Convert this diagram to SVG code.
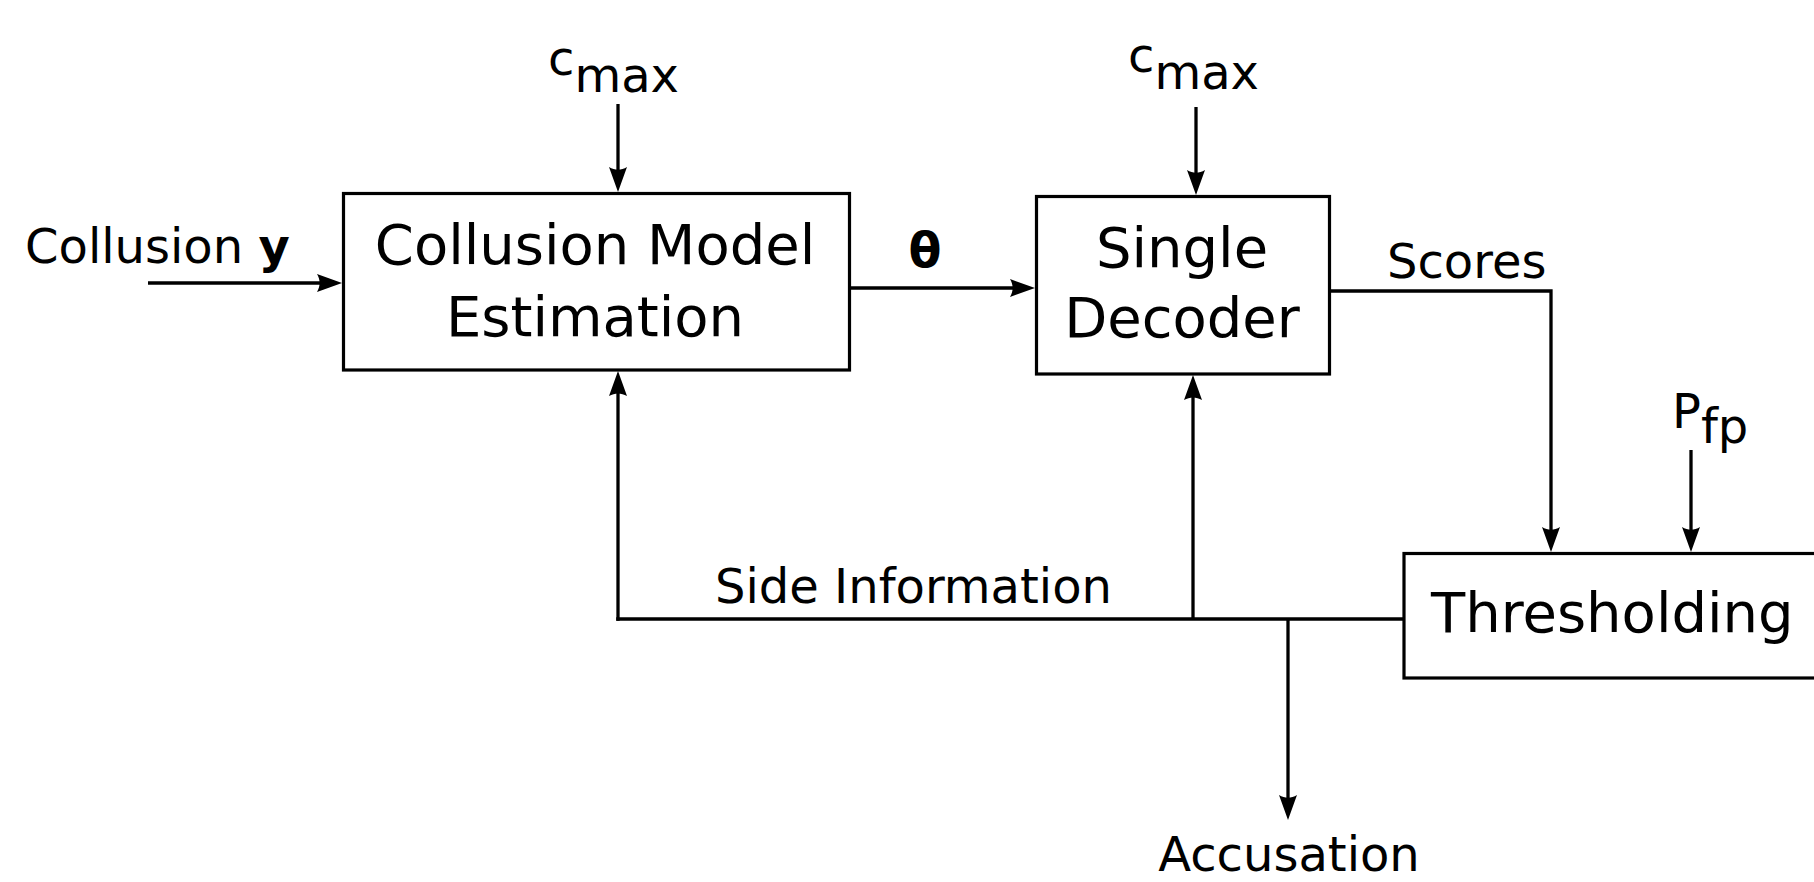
<svg xmlns="http://www.w3.org/2000/svg" width="1814" height="882" viewBox="0 0 1814 882">
  <style>
    .box { fill: #ffffff; stroke: #000000; stroke-width: 3.2; }
    .wire { fill: none; stroke: #000000; stroke-width: 3.3; stroke-linecap: butt; stroke-linejoin: miter; }
    .big { font-family: "DejaVu Sans", "Liberation Sans", sans-serif; font-size: 56px; fill: #000000; }
    .lbl { font-family: "DejaVu Sans", "Liberation Sans", sans-serif; font-size: 48px; fill: #000000; }
    .bold { font-weight: bold; }
  </style>
  <defs>
    <!-- notched arrowhead; the line end sits in the notch, tip lies 22px further on -->
    <marker id="arrow" markerUnits="userSpaceOnUse" markerWidth="26" markerHeight="19" viewBox="0 0 26 18" refX="3" refY="9" orient="auto" overflow="visible">
      <path d="M0,0 L25,9 L0,18 C3.5,12 3.5,6 0,0 Z" fill="#000000"/>
    </marker>
  </defs>

  <rect width="1814" height="882" fill="#ffffff"/>

  <!-- connectors -->
  <g id="connectors">
    <!-- Collusion y into estimator -->
    <path class="wire" d="M148,283 H320" marker-end="url(#arrow)"/>
    <!-- c_max into estimator -->
    <path class="wire" d="M618,104 V170" marker-end="url(#arrow)"/>
    <!-- theta to decoder -->
    <path class="wire" d="M849,288 H1013" marker-end="url(#arrow)"/>
    <!-- c_max into decoder -->
    <path class="wire" d="M1196,107 V173" marker-end="url(#arrow)"/>
    <!-- scores to thresholding -->
    <path class="wire" d="M1329,291 H1551 V530" marker-end="url(#arrow)"/>
    <!-- P_fp into thresholding -->
    <path class="wire" d="M1691,450 V530" marker-end="url(#arrow)"/>
    <!-- side information bus -->
    <path class="wire" d="M616.2,619 H1404" style="stroke-width:3.6"/>
    <path class="wire" d="M618,620.8 V393" marker-end="url(#arrow)"/>
    <path class="wire" d="M1193,619 V397" marker-end="url(#arrow)"/>
    <!-- accusation output -->
    <path class="wire" d="M1288,619 V798" marker-end="url(#arrow)"/>
  </g>

  <!-- nodes -->
  <g id="estimation">
    <rect class="box" x="343.5" y="193.5" width="506" height="176.5"/>
    <text class="big" x="595" y="264" text-anchor="middle">Collusion Model</text>
    <text class="big" x="595" y="336" text-anchor="middle">Estimation</text>
  </g>

  <g id="decoder">
    <rect class="box" x="1036.5" y="196.5" width="293" height="177.5"/>
    <text class="big" x="1182" y="267" text-anchor="middle">Single</text>
    <text class="big" x="1182" y="337" text-anchor="middle">Decoder</text>
  </g>

  <g id="thresholding">
    <rect class="box" x="1404" y="553.5" width="420" height="124.5"/>
    <text class="big" x="1431" y="632">Thresholding</text>
  </g>

  <!-- labels -->
  <g id="labels">
    <text class="lbl" x="25" y="263">Collusion <tspan class="bold">y</tspan></text>
    <text class="lbl" x="548" y="75">c<tspan y="92">max</tspan></text>
    <text class="lbl" x="1128" y="72">c<tspan y="89">max</tspan></text>
    <text class="lbl bold" x="925" y="267" text-anchor="middle">θ</text>
    <text class="lbl" x="1387" y="278">Scores</text>
    <text class="lbl" x="1672" y="428">P<tspan y="443">fp</tspan></text>
    <text class="lbl" x="715" y="603">Side Information</text>
    <text class="lbl" x="1289" y="871" text-anchor="middle">Accusation</text>
  </g>
</svg>
